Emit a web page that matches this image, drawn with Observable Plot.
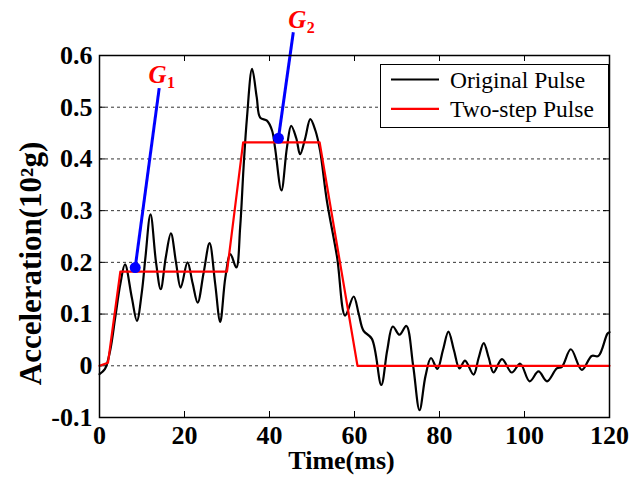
<!DOCTYPE html>
<html>
<head>
<meta charset="utf-8">
<script src="https://cdn.jsdelivr.net/npm/d3@7"></script>
<script src="https://cdn.jsdelivr.net/npm/@observablehq/plot@0.6"></script>
<style>
  html, body { margin: 0; padding: 0; background: white; }
  #wrap { position: relative; width: 643px; height: 484px; }
  #wrap svg, #wrap svg text { font-family: 'Liberation Serif', 'Times New Roman', Times, serif !important; }
  #legend { position: absolute; left: 380px; top: 64px; width: 229px; height: 64px;
            box-sizing: border-box; border: 1.5px solid black; background: white; }
</style>
</head>
<body>
<div id="wrap"></div>
<script>
// ---- data ----
const origT = [0, 1.3, 2.5, 3.7, 4.9, 6.0, 7.6, 8.8, 10.0, 10.8, 12.0, 13.3, 14.4, 15.6, 16.8, 18.0, 19.1, 20.7, 21.9, 23.1, 24.5, 25.9, 27.2, 28.4, 29.6, 30.8, 32.2, 33.1, 33.9, 34.7, 35.9, 37.0, 37.8, 39.4, 40.6, 41.3, 42.8, 44.1, 45.1, 46.3, 47.2, 48.4, 49.6, 50.8, 51.9, 53.5, 55.9, 57.8, 59.8, 61.0, 62.1, 64.1, 66.3, 67.7, 69.0, 70.6, 72.2, 73.8, 75.3, 76.7, 78.0, 79.5, 80.8, 82.1, 83.4, 84.7, 86.0, 88.0, 89.2, 90.4, 91.6, 92.7, 94.7, 97.0, 99.0, 101.2, 103.3, 105.3, 107.6, 108.8, 110.9, 113.5, 115.8, 117.4, 119.5, 120];
const origV = [-0.016, -0.006, 0.029, 0.093, 0.158, 0.196, 0.132, 0.087, 0.145, 0.209, 0.293, 0.2, 0.148, 0.21, 0.256, 0.2, 0.151, 0.2, 0.16, 0.122, 0.18, 0.237, 0.16, 0.085, 0.17, 0.216, 0.19, 0.268, 0.384, 0.48, 0.574, 0.519, 0.48, 0.474, 0.455, 0.422, 0.339, 0.422, 0.464, 0.44, 0.409, 0.44, 0.477, 0.455, 0.416, 0.319, 0.21, 0.097, 0.134, 0.1, 0.068, 0.052, -0.037, 0.03, 0.076, 0.06, 0.077, 0.0, -0.086, -0.02, 0.015, -0.006, 0.03, 0.066, 0.03, -0.005, 0.01, -0.017, 0.015, 0.044, 0.015, -0.013, 0.013, -0.013, 0.004, -0.03, -0.011, -0.03, -0.005, -0.002, 0.032, -0.008, 0.019, 0.019, 0.062, 0.065];

const stepT = [0, 2.0, 4.9, 30.0, 33.8, 51.8, 60.7, 120];
const stepV = [0, 0.006, 0.182, 0.182, 0.432, 0.432, 0, 0];

// annotation points G1, G2 (dot on curve, end of pointer line, label anchor)
const annName = ["G", "G"];
const annSub = ["1", "2"];
const annDotT = [8.4, 42.1];
const annDotV = [0.190, 0.440];
const annTopT = [14.05, 45.6];
const annTopV = [0.537, 0.645];
const annLabT = [11.5, 44.4];
const annLabV = [0.547, 0.654];

const xTicks = [0, 20, 40, 60, 80, 100, 120];
const xTickLabels = ["0", "20", "40", "60", "80", "100", "120"];
const yTicks = [-0.1, 0, 0.1, 0.2, 0.3, 0.4, 0.5, 0.6];
const yTickLabels = ["-0.1", "0", "0.1", "0.2", "0.3", "0.4", "0.5", "0.6"];
const yGrid = [0, 0.1, 0.2, 0.3, 0.4, 0.5];

const seriesNames = ["Original Pulse", "Two-step Pulse"];
const seriesColors = ["#000000", "#ff0000"];
const xLabel = "Time(ms)";
const yLabel = "Acceleration(10²g)";

// ---- build tables ----
const orig = origT.map((t, i) => ({t, v: origV[i]}));
const step = stepT.map((t, i) => ({t, v: stepV[i]}));
const ann = annName.map((n, i) => ({
  n, s: annSub[i], dt: annDotT[i], dv: annDotV[i], tt: annTopT[i], tv: annTopV[i], lt: annLabT[i], lv: annLabV[i]
}));
const xFmt = new Map(xTicks.map((d, i) => [d, xTickLabels[i]]));
const yFmt = new Map(yTicks.map((d, i) => [d, yTickLabels[i]]));

const W = 643, H = 484, mL = 99, mR = 34, mT = 55, mB = 67;
const fw = W - mL - mR, fh = H - mT - mB, tl = 6;
const serif = "'Liberation Serif', 'Times New Roman', Times, serif";

const chart = Plot.plot({
  width: W, height: H,
  marginLeft: mL, marginRight: mR, marginTop: mT, marginBottom: mB,
  x: {domain: [0, 120]},
  y: {domain: [-0.1, 0.6]},
  style: {fontFamily: serif, background: "white", color: "black", overflow: "visible"},
  marks: [
    Plot.gridY(yGrid, {stroke: "black", strokeOpacity: 1, strokeWidth: 0.8, strokeDasharray: "3,3"}),
    Plot.tickX(xTicks, {x: d => d, insetTop: fh - tl, stroke: "black"}),
    Plot.tickX(xTicks, {x: d => d, insetBottom: fh - tl, stroke: "black"}),
    Plot.tickY(yTicks, {y: d => d, insetRight: fw - tl, stroke: "black"}),
    Plot.tickY(yTicks, {y: d => d, insetLeft: fw - tl, stroke: "black"}),
    Plot.axisX(xTicks, {tickSize: 0, tickPadding: 8, fontSize: 26, fontWeight: "bold", tickFormat: d => xFmt.get(d), label: null}),
    Plot.axisY(yTicks, {tickSize: 0, tickPadding: 7, fontSize: 26, fontWeight: "bold", tickFormat: d => yFmt.get(d), label: null}),
    Plot.text([xLabel], {frameAnchor: "bottom", textAnchor: "middle", lineAnchor: "bottom", dy: 51, dx: -13, fontSize: 26, fontWeight: "bold", fill: "black"}),
    Plot.text([yLabel], {frameAnchor: "left", textAnchor: "middle", lineAnchor: "middle", rotate: -90, dx: -68, dy: 27, fontSize: 31, fontWeight: "bold", fill: "black"}),
    Plot.line(orig, {x: "t", y: "v", curve: "catmull-rom", stroke: seriesColors[0], strokeWidth: 2.2}),
    Plot.line(step, {x: "t", y: "v", stroke: seriesColors[1], strokeWidth: 2.2}),
    Plot.link(ann, {x1: "dt", y1: "dv", x2: "tt", y2: "tv", stroke: "#0000ff", strokeWidth: 3}),
    Plot.dot(ann, {x: "dt", y: "dv", r: 5.5, fill: "#0000ff"}),
    Plot.text(ann, {x: "lt", y: "lv", text: "n", textAnchor: "start", lineAnchor: "bottom", fill: "#ff0000", fontSize: 25, fontWeight: "bold", fontStyle: "italic"}),
    Plot.text(ann, {x: "lt", y: "lv", text: "s", textAnchor: "start", lineAnchor: "bottom", dx: 18.5, dy: 5, fill: "#ff0000", fontSize: 16, fontWeight: "bold"}),
    Plot.frame({stroke: "black", strokeWidth: 1.5})
  ]
});

const wrap = document.getElementById("wrap");
wrap.appendChild(chart);

// legend overlay
const leg = document.createElement("div");
leg.id = "legend";
const ns = "http://www.w3.org/2000/svg";
const ls = document.createElementNS(ns, "svg");
ls.setAttribute("width", 226);
ls.setAttribute("height", 61);
ls.style.display = "block";
seriesNames.forEach((name, i) => {
  const y = 14.5 + i * 29.3;
  const ln = document.createElementNS(ns, "line");
  ln.setAttribute("x1", 10); ln.setAttribute("x2", 58);
  ln.setAttribute("y1", y); ln.setAttribute("y2", y);
  ln.setAttribute("stroke", seriesColors[i]); ln.setAttribute("stroke-width", 2.2);
  ls.appendChild(ln);
  const tx = document.createElementNS(ns, "text");
  tx.setAttribute("x", 69); tx.setAttribute("y", y + 8.5);
  tx.setAttribute("font-size", 23.5);
  tx.textContent = name;
  ls.appendChild(tx);
});
leg.appendChild(ls);
wrap.appendChild(leg);
</script>
</body>
</html>
